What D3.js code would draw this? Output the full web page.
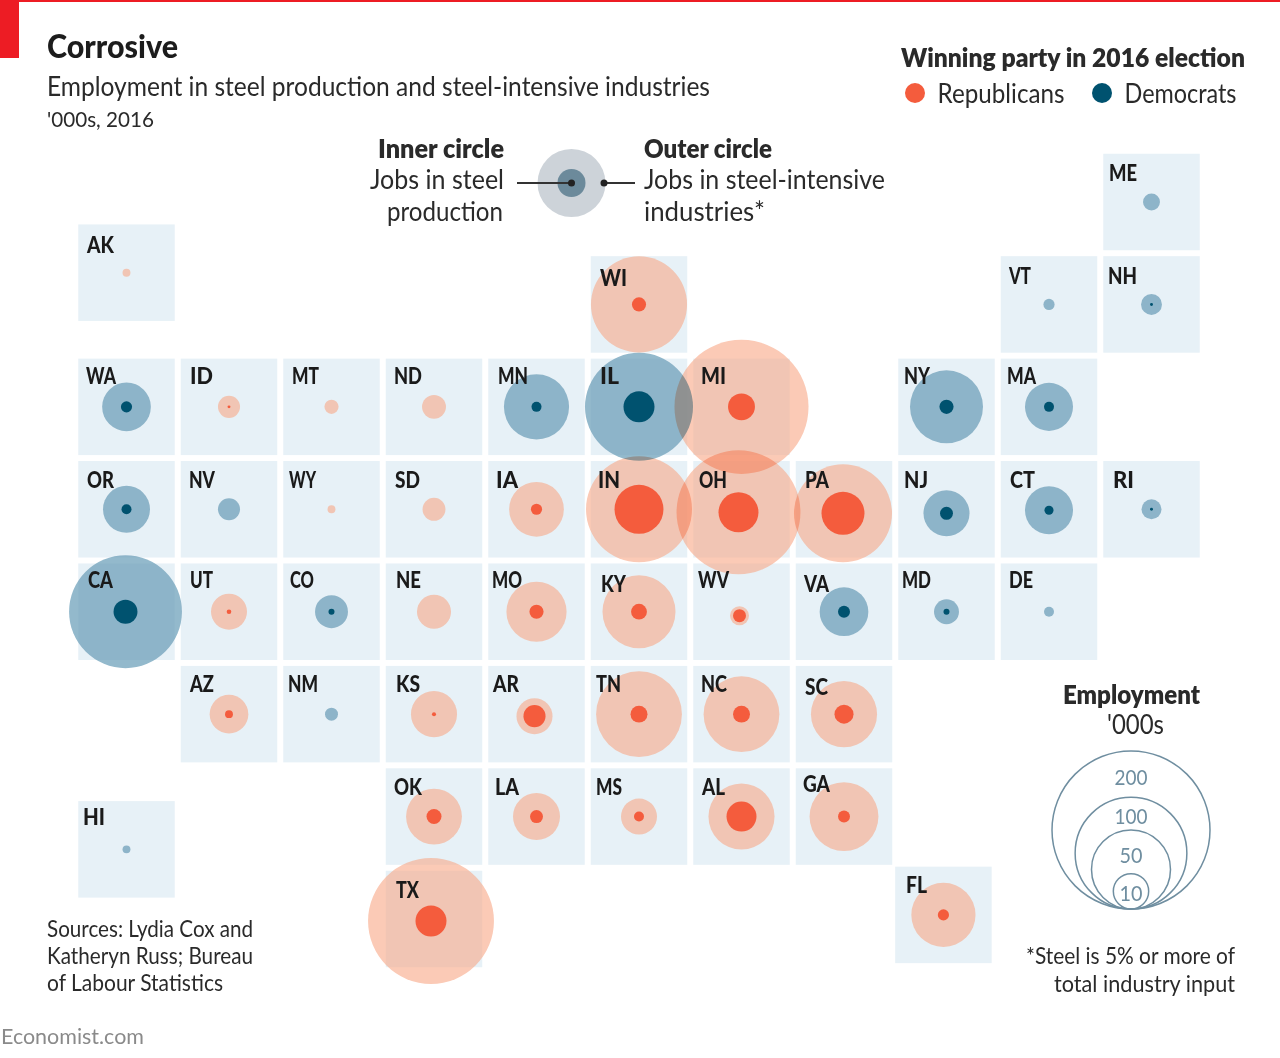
<!DOCTYPE html>
<html><head><meta charset="utf-8">
<script src="https://cdn.jsdelivr.net/npm/d3@7"></script>
<style>html,body{margin:0;padding:0;background:#fff}svg{display:block}.halo{mix-blend-mode:multiply}</style>
</head><body><svg id="c" width="1280" height="1058"></svg>
<script>
// ---- data (thousands of jobs) ----
const states   = ["ME","AK","WI","VT","NH","WA","ID","MT","ND","MN","IL","MI","NY","MA","OR","NV","WY","SD","IA","IN","OH","PA","NJ","CT","RI","CA","UT","CO","NE","MO","KY","WV","VA","MD","DE","AZ","NM","KS","AR","TN","NC","SC","OK","LA","MS","AL","GA","HI","TX","FL"];
const gridCol  = [10,0,5,9,10,0,1,2,3,4,5,6,8,9,0,1,2,3,4,5,6,7,8,9,10,0,1,2,3,4,5,6,7,8,9,1,2,3,4,5,6,7,3,4,5,6,7,0,3,7.97];
const gridRow  = [0,0.69,1,1,1,2,2,2,2,2,2,2,2,2,3,3,3,3,3,3,3,3,3,3,3,4,4,4,4,4,4,4,4,4,4,5,5,5,5,5,5,5,6,6,6,6,6,6.32,7,6.96];
const outerJobs= [2.3,0.5,74,1,3.5,19,3.9,1.6,4.6,34,93.5,144,42.7,18.5,17.7,3.9,0.5,4.2,24,90,123,77,17,18.5,3.2,102,10.4,8.7,9.3,29,42.7,2.9,19,5,0.8,12,1.35,17,10.4,59,46,35,25,17.7,10.4,35,38,0.5,127,33];
const innerJobs= [0,0,1.6,0,0.07,1,0.07,0,0,0.8,7.7,5.8,1.6,0.8,0.8,0,0,0,1,19.2,12.8,14.8,1.35,0.65,0.07,4.6,0.17,0.29,0,1.6,2,1.35,1.15,0.29,0,0.5,0,0.13,3.9,2.3,2.3,2.9,1.8,1.35,0.8,7.2,1.15,0,7.7,1];
const winner   = ["D","R","R","D","D","D","R","R","R","D","D","R","D","D","D","D","R","R","R","R","R","R","D","D","D","D","R","D","R","R","R","R","D","D","D","R","D","R","R","R","R","R","R","R","R","R","R","D","R","R"];
const sizeKey  = [200,100,50,10];

// ---- layout ----
const svg = d3.select("#c");
const font = "Lato,'Noto Sans',sans-serif";
const x = d3.scaleLinear().domain([0,10]).range([126.5,1151.5]);
const y = d3.scaleLinear().domain([0,7]).range([202,919]);
const r = d3.scaleSqrt().domain([0,200]).range([0,79]);
const TILE = 96.5;
const solid = {R:"#f45c3d", D:"#00526f"};
const halo  = {R:"#fbcab6", D:"#93b9cc"};
const bubbleNudge = {OH:[-3,3],PA:[-1,4],NJ:[0,4],CT:[0,1],CA:[-1,0],WV:[-2,4],AR:[-2,2],TX:[-3,2]};
const labelAt = {ME:[1109,181,28],AK:[87,253,27],WI:[600,286,27],VT:[1009,284,22],NH:[1108,284,29],
 WA:[86,384,30],ID:[190,384,23],MT:[292,384,27],ND:[394,384,28],MN:[498,384,30],IL:[600,384,19],MI:[701,384,25],NY:[904,384,26],MA:[1007,384,29],
 OR:[87,488,27],NV:[189,488,26],WY:[289,488,27],SD:[395,488,25],IA:[496,488,22],IN:[598,488,22],OH:[699,488,28],PA:[805,488,24],NJ:[904,488,24],CT:[1010,488,25],RI:[1113,488,21],
 CA:[88,588,25],UT:[190,588,23],CO:[290,588,24],NE:[396,588,25],MO:[492,588,30],KY:[601,592,25],WV:[698,588,31],VA:[804,592,25],MD:[902,588,29],DE:[1009,588,24],
 AZ:[190,692,24],NM:[288,692,30],KS:[396,692,24],AR:[493,692,26],TN:[596,692,25],NC:[701,692,26],SC:[805,695,23],
 OK:[394,795,28],LA:[495,795,24],MS:[596,795,26],AL:[702,795,23],GA:[803,792,27],HI:[83,825,22],TX:[396,898,23],FL:[906,893,21]};

function txt(px,py,s,w,size,opt={}){
  return svg.append("text").attr("x",px).attr("y",py).text(s)
    .attr("font-family",font).attr("font-size",size)
    .attr("font-weight",opt.weight||(opt.bold?800:400))
    .attr("fill",opt.fill||"#2a2a2a")
    .attr("textLength",w).attr("lengthAdjust","spacingAndGlyphs");
}

// header
svg.append("rect").attr("width",1280).attr("height",2).attr("fill","#ed1c24");
svg.append("rect").attr("width",19).attr("height",58).attr("fill","#ed1c24");
txt(47,58,"Corrosive",131,33,{weight:900,fill:"#1c1c1c"});
txt(47,96,"Employment in steel production and steel-intensive industries",663,26);
txt(47,127,"'000s, 2016",107,21);

// party legend
txt(901,67,"Winning party in 2016 election",344,26,{bold:true});
svg.append("circle").attr("cx",915).attr("cy",93).attr("r",10).attr("fill",solid.R);
txt(937.5,103,"Republicans",127,26);
svg.append("circle").attr("cx",1102).attr("cy",93).attr("r",10).attr("fill",solid.D);
txt(1124.5,103,"Democrats",112,26);

// circle explainer
svg.append("circle").attr("cx",571.5).attr("cy",183).attr("r",34).attr("fill","#cdd3d9");
svg.append("circle").attr("cx",571.5).attr("cy",183).attr("r",14).attr("fill","#6c8a9b");
svg.append("line").attr("x1",517).attr("x2",571.5).attr("y1",183).attr("y2",183).attr("stroke","#333").attr("stroke-width",2);
svg.append("line").attr("x1",604).attr("x2",635).attr("y1",183).attr("y2",183).attr("stroke","#333").attr("stroke-width",2);
svg.append("circle").attr("cx",571.5).attr("cy",183).attr("r",3.5).attr("fill","#222");
svg.append("circle").attr("cx",604).attr("cy",183).attr("r",3.5).attr("fill","#222");
txt(378,158,"Inner circle",126,26,{bold:true});
txt(370,189,"Jobs in steel",134,26);
txt(387,221,"production",116,26);
txt(644,158,"Outer circle",128,26,{bold:true});
txt(644,189,"Jobs in steel-intensive",241,26);
txt(644,221,"industries*",121,26);

// tiles and bubbles
const rows = states.map((s,i)=>({s,col:gridCol[i],row:gridRow[i],outer:outerJobs[i],inner:innerJobs[i],p:winner[i],n:bubbleNudge[s]||[0,0]}));
const cx = d=>x(d.col)+d.n[0], cy = d=>y(d.row)+d.n[1];
svg.append("g").selectAll("rect").data(rows).join("rect")
  .attr("x",d=>x(d.col)-TILE/2).attr("y",d=>y(d.row)-TILE/2)
  .attr("width",TILE).attr("height",TILE).attr("fill","#e7f1f7");
svg.append("g").selectAll("circle").data(rows).join("circle")
  .attr("cx",cx).attr("cy",cy).attr("r",d=>r(d.outer))
  .attr("fill","#fff").attr("fill-opacity",0.6);
svg.append("g").selectAll("circle").data(rows).join("circle").attr("class","halo")
  .attr("cx",cx).attr("cy",cy).attr("r",d=>r(d.outer))
  .attr("fill",d=>halo[d.p]);
svg.append("g").selectAll("circle").data(rows.filter(d=>d.inner>0)).join("circle")
  .attr("cx",cx).attr("cy",cy).attr("r",d=>r(d.inner))
  .attr("fill",d=>solid[d.p]);
svg.append("g").selectAll("text").data(rows).join("text")
  .attr("x",d=>labelAt[d.s][0]).attr("y",d=>labelAt[d.s][1]).text(d=>d.s)
  .attr("font-family",font).attr("font-size",23.5).attr("font-weight",900).attr("fill","#1a1a1a")
  .attr("textLength",d=>labelAt[d.s][2])
  .attr("lengthAdjust","spacingAndGlyphs");

// size key
const keyBase = 909, keyX = 1131;
svg.append("g").selectAll("circle").data(sizeKey).join("circle")
  .attr("cx",keyX).attr("cy",d=>keyBase-r(d)).attr("r",d=>r(d))
  .attr("fill","none").attr("stroke","#6f8ea0").attr("stroke-width",1.5);
const keyTextY = {200:785,100:824,50:863,10:901};
const keyTextW = {200:33,100:33,50:23,10:23};
svg.append("g").selectAll("text").data(sizeKey).join("text")
  .attr("x",d=>keyX-keyTextW[d]/2).attr("y",d=>keyTextY[d]).text(d=>d)
  .attr("font-family",font).attr("font-size",22).attr("fill","#6f8ea0")
  .attr("textLength",d=>keyTextW[d]).attr("lengthAdjust","spacingAndGlyphs");
txt(1063,704,"Employment",137,26,{bold:true});
txt(1107,734,"'000s",57,26);
txt(1026,964,"*Steel is 5% or more of",209,22.5);
txt(1054,992,"total industry input",181,22.5);

// sources
txt(47,937,"Sources: Lydia Cox and",206,22.5);
txt(47,964,"Katheryn Russ; Bureau",206,22.5);
txt(47,991,"of Labour Statistics",176,22.5);
txt(1,1044,"Economist.com",143,21.5,{fill:"#8a8a8a"});
</script></body></html>
